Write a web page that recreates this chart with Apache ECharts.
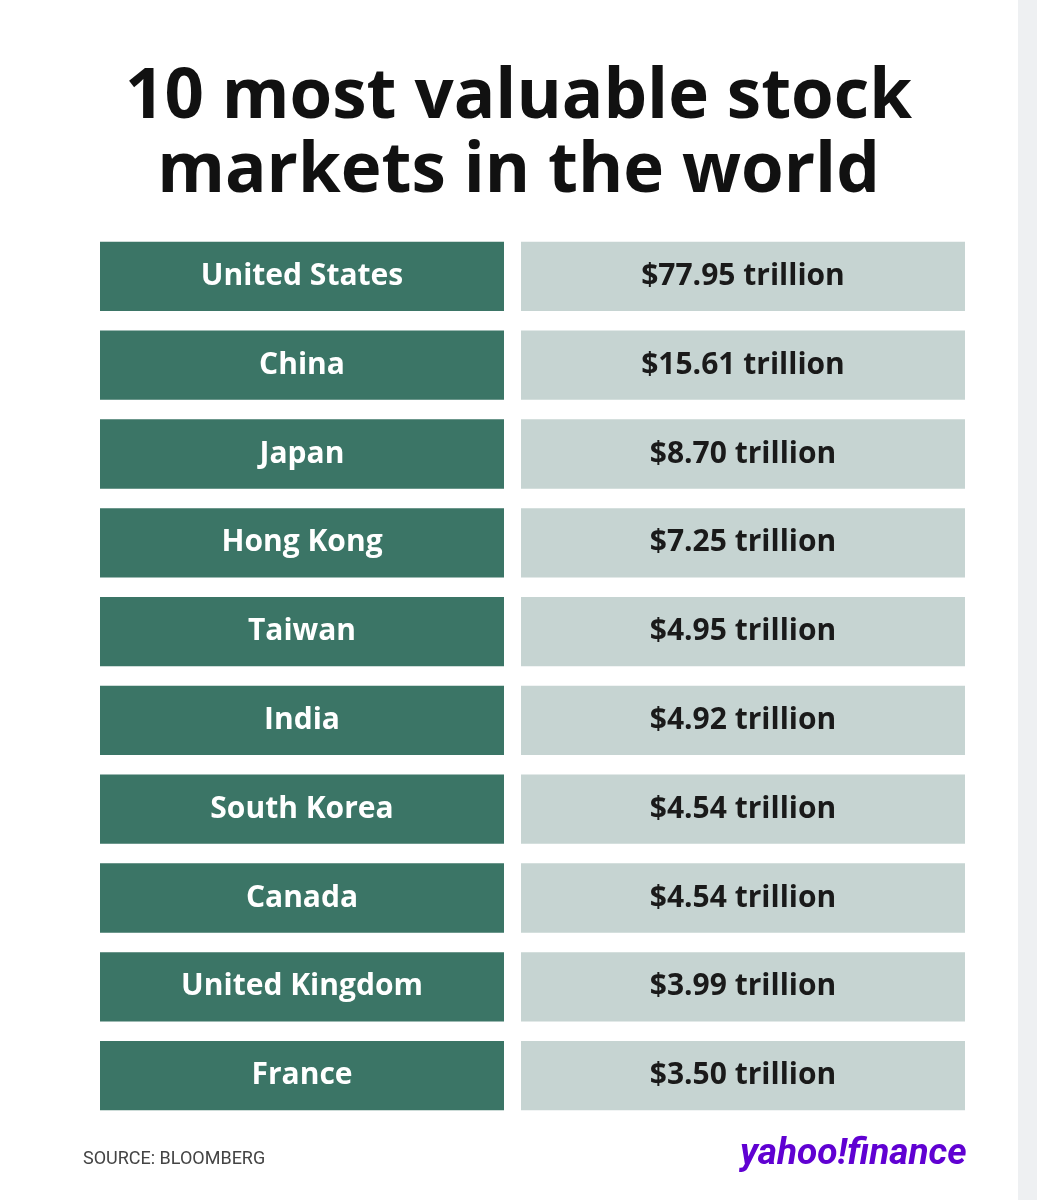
<!DOCTYPE html>
<html><head><meta charset="utf-8">
<script src="https://cdn.jsdelivr.net/npm/echarts@6/dist/echarts.min.js"></script>
<style>html,body{margin:0;padding:0;background:#fff}#c{width:1037px;height:1200px}</style>
</head><body><div id="c"></div>
<script>
const countries = ["United States","China","Japan","Hong Kong","Taiwan","India","South Korea","Canada","United Kingdom","France"];
const valuesTrillion = [77.95,15.61,8.70,7.25,4.95,4.92,4.54,4.54,3.99,3.50];
const valueLabels = valuesTrillion.map(v => "$" + v.toFixed(2) + " trillion");

const chart = echarts.init(document.getElementById('c'));
const gridLeft = 100, gridRight = 72;
chart.setOption({
  backgroundColor: '#ffffff',
  animation: false,
  title: {
    text: '10 most valuable stock\nmarkets in the world',
    left: 'center', top: 56,
    textStyle: {fontFamily: 'Open Sans', fontWeight: 'bold', fontSize: 69, lineHeight: 74, color: '#111'}
  },
  graphic: [
    {type: 'rect', shape: {x: 1018, y: 0, width: 19, height: 1200}, style: {fill: '#eef0f2'}},
    {type: 'text', left: 83, top: 1150, style: {text: 'SOURCE: BLOOMBERG', fontFamily: 'Roboto', fontSize: 18, fill: '#444'}},
    {type: 'text', left: 740, top: 1136, style: {text: 'yahoo!finance', fontFamily: 'Roboto', fontWeight: 'bold', fontStyle: 'italic', fontSize: 37, fill: '#6001d2'}}
  ],
  grid: {left: gridLeft, right: gridRight, top: 232, bottom: 80},
  xAxis: {type: 'value', min: 0, max: 1, show: false},
  yAxis: {type: 'category', data: countries, inverse: true, show: false},
  series: [{
    type: 'custom',
    data: countries.map((c, i) => [0, i]),
    renderItem: function (params, api) {
      const i = api.value(1);
      const p = api.coord([0, i]);
      const band = api.size([0, 1])[1];
      const h = band * 0.78;
      const y = p[1] - h / 2;
      const x0 = p[0];
      const lw = 404, gap = 17, rw = 444;
      return {type: 'group', children: [
        {type: 'rect', shape: {x: x0, y: y, width: lw, height: h}, style: {fill: '#3b7566'}},
        {type: 'text', style: {text: countries[i], x: x0 + lw / 2, y: p[1], align: 'center', verticalAlign: 'middle', fontFamily: 'Open Sans', fontWeight: 'bold', fontSize: 30, fill: '#ffffff'}},
        {type: 'rect', shape: {x: x0 + lw + gap, y: y, width: rw, height: h}, style: {fill: '#c6d4d2'}},
        {type: 'text', style: {text: valueLabels[i], x: x0 + lw + gap + rw / 2, y: p[1], align: 'center', verticalAlign: 'middle', fontFamily: 'Open Sans', fontWeight: 'bold', fontSize: 30, fill: '#1a1a1a'}}
      ]};
    }
  }]
});
</script></body></html>
